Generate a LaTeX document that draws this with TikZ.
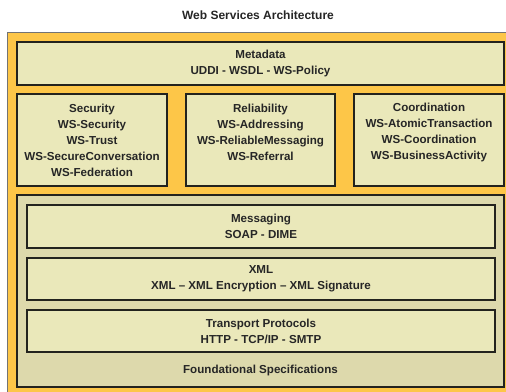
\documentclass[tikz,border=0pt]{standalone}
\usepackage{fontspec}
\setmainfont{Liberation Sans}
\definecolor{frameorange}{RGB}{253,198,72}
\definecolor{boxfill}{RGB}{234,232,186}
\definecolor{foundfill}{RGB}{221,217,172}
\definecolor{edge}{RGB}{35,35,30}
\begin{document}
\begin{tikzpicture}[x=1pt,y=-1pt,
  box/.style={draw=edge, line width=2pt, fill=boxfill, inner sep=0pt, minimum width=#1},
  box/.default=150,
  txt/.style={font=\fontsize{11.6}{16}\selectfont\bfseries, align=center, inner sep=0pt, text=black!85}]
\useasboundingbox (0,0) rectangle (506,391);
\fill[white] (0,0) rectangle (506,391);
\draw[draw=black!55, line width=1pt, fill=frameorange] (7,32) rectangle (512,396);
\node[font=\fontsize{12}{14}\selectfont\bfseries, inner sep=0pt, text=black!85] (title) at (258,15) {Web Services Architecture};
% metadata
\node[box=487, minimum height=43] (meta) at (260.5,63.5) {};
\node[txt] (metat) at (meta.center) {Metadata\\UDDI - WSDL - WS-Policy};
% row 2
\node[box=150, minimum height=92] (sec) at (92,140) {};
\node[txt] (sect) at (92,140) {Security\\WS-Security\\WS-Trust\\WS-SecureConversation\\WS-Federation};
\node[box=149, minimum height=92] (rel) at (260.5,140) {};
\node[txt] (relt) at (260.5,132) {Reliability\\WS-Addressing\\WS-ReliableMessaging\\WS-Referral};
\node[box=150, minimum height=92] (coo) at (429,140) {};
\node[txt] (coot) at (429,132) {Coordination\\WS-AtomicTransaction\\WS-Coordination\\WS-BusinessActivity};
% foundational
\node[draw=edge, line width=2pt, fill=foundfill, inner sep=0pt, minimum width=487, minimum height=192] (found) at (260.5,291) {};
\node[box=468, minimum height=43] (msg) at (261,226.5) {};
\node[txt] (msgt) at (msg.center) {Messaging\\SOAP - DIME};
\node[box=468, minimum height=42] (xml) at (261,279) {};
\node[txt] (xmlt) at (xml.center) {XML\\XML -- XML Encryption -- XML Signature};
\node[box=468, minimum height=42] (tra) at (261,331) {};
\node[txt] (trat) at (tra.center) {Transport Protocols\\HTTP - TCP/IP - SMTP};
\node[txt] (foundt) at (260.5,370) {Foundational Specifications};
\end{tikzpicture}
\end{document}
